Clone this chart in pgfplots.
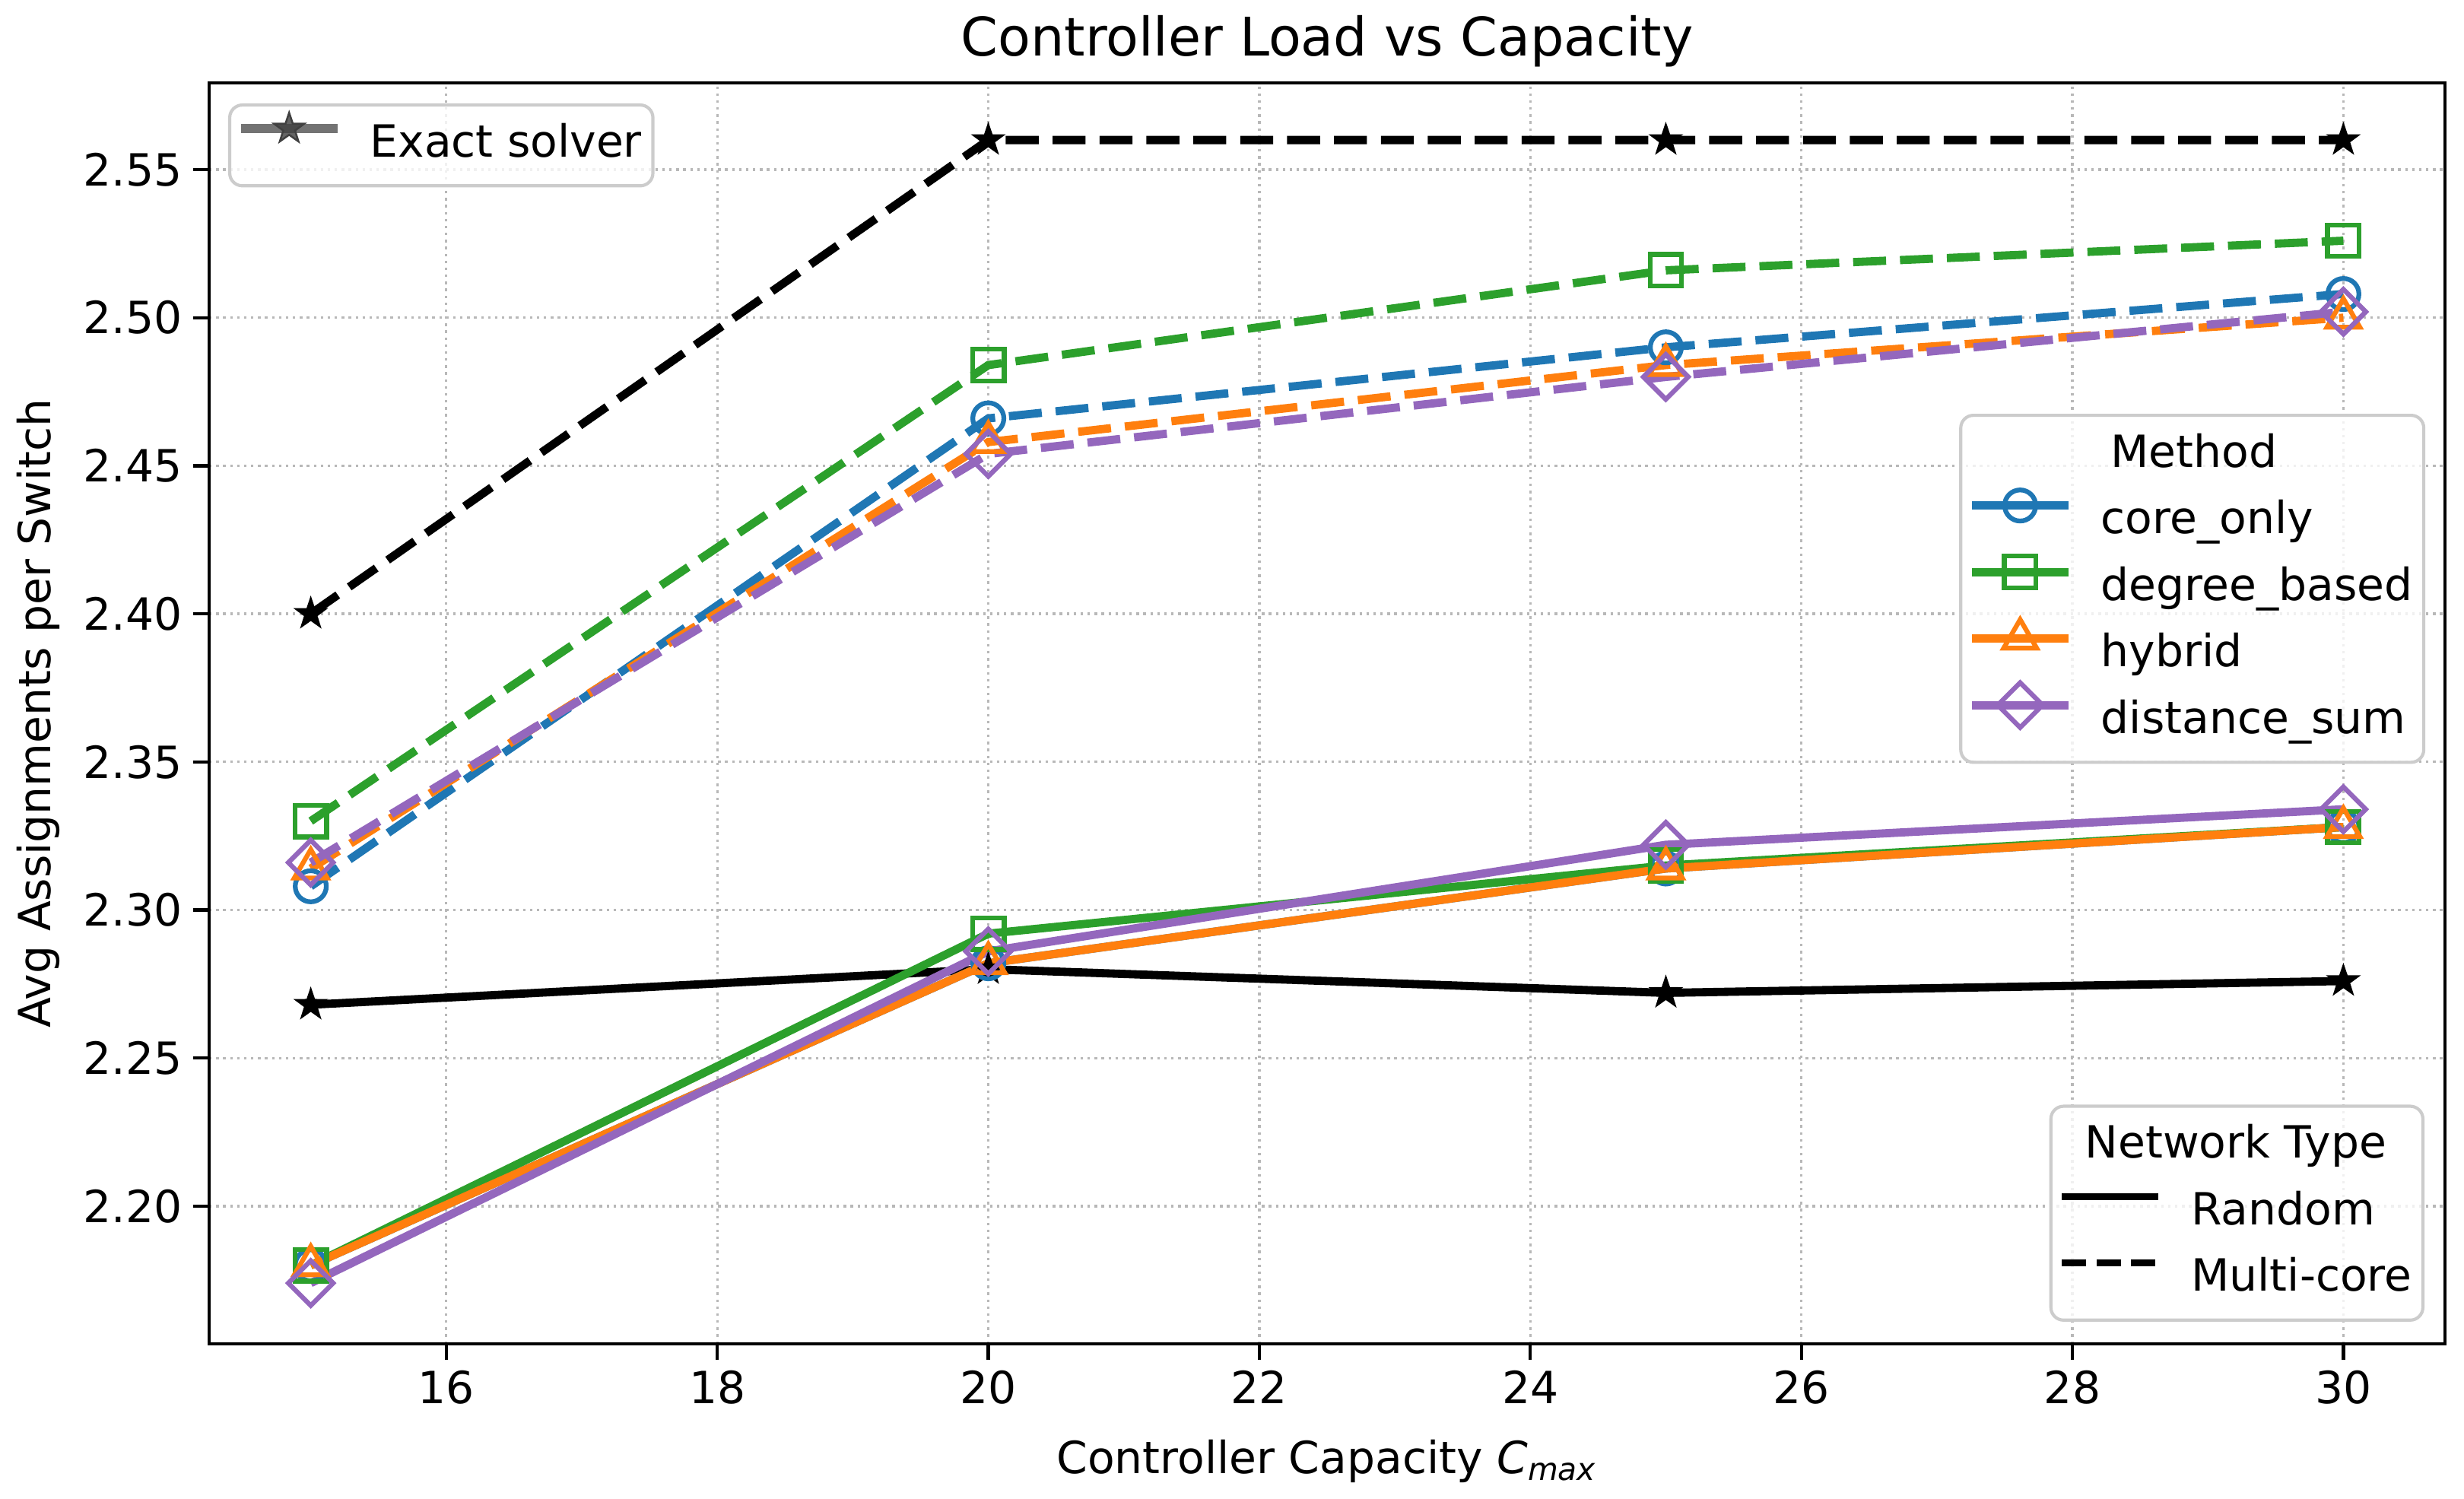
\documentclass[border=0pt]{standalone}
\usepackage{fontspec}
\setmainfont{DejaVu Sans}
\usepackage{pgfplots}
\usepackage{pgfplotstable}
\pgfplotsset{compat=1.18}
\pgfplotsset{/pgf/number format/assume math mode=true}

\definecolor{cblue}{HTML}{1F77B4}
\definecolor{cgreen}{HTML}{2CA02C}
\definecolor{corange}{HTML}{FF7F0E}
\definecolor{cpurple}{HTML}{9467BD}

% filled five-pointed star
\pgfdeclareplotmark{fstar}{%
  \pgfpathmoveto{\pgfpointpolar{90}{\pgfplotmarksize}}%
  \pgfpathlineto{\pgfpointpolar{126}{0.39\pgfplotmarksize}}%
  \pgfpathlineto{\pgfpointpolar{162}{\pgfplotmarksize}}%
  \pgfpathlineto{\pgfpointpolar{198}{0.39\pgfplotmarksize}}%
  \pgfpathlineto{\pgfpointpolar{234}{\pgfplotmarksize}}%
  \pgfpathlineto{\pgfpointpolar{270}{0.39\pgfplotmarksize}}%
  \pgfpathlineto{\pgfpointpolar{306}{\pgfplotmarksize}}%
  \pgfpathlineto{\pgfpointpolar{342}{0.39\pgfplotmarksize}}%
  \pgfpathlineto{\pgfpointpolar{18}{\pgfplotmarksize}}%
  \pgfpathlineto{\pgfpointpolar{54}{0.39\pgfplotmarksize}}%
  \pgfpathclose
  \pgfusepathqfillstroke
}

% legend text with a little room on the right
\newcommand\lt[1]{#1\hspace{2pt}}

% average assignments per switch; r = Random, m = Multi-core
\pgfplotstableread{
x   ex_r  ex_m  co_r  co_m  de_r  de_m  hy_r  hy_m  di_r  di_m
15  2.268 2.400 2.180 2.308 2.180 2.330 2.180 2.314 2.174 2.316
20  2.280 2.560 2.282 2.466 2.292 2.484 2.282 2.458 2.286 2.454
25  2.272 2.560 2.314 2.490 2.315 2.516 2.314 2.484 2.322 2.480
30  2.276 2.560 2.328 2.508 2.328 2.526 2.328 2.500 2.334 2.502
}\loaddata

\pgfplotsset{
  common/.style={
    scale only axis, width=705.6pt, height=397.9pt,
    xmin=14.25, xmax=30.75, ymin=2.1535, ymax=2.5793,
    at={(0pt,0pt)}, anchor=south west,
  },
  legbox/.style={
    legend cell align=left,
    % the sample is drawn as an overlay so that only the text sets the row height
    legend image code/.code={%
      \draw[overlay, sharp corners, mark repeat=2, mark phase=2, yshift=5.3pt, ##1]
        plot coordinates {(0pt,0pt) (15.25pt,0pt) (30.5pt,0pt)};
      \path[draw=none, fill=none] (0pt,0pt) -- (30.5pt,0pt);},
    legend style={
      draw=black!20, line width=1pt, rounded corners=4pt,
      fill=white, fill opacity=0.8, text opacity=1, draw opacity=1,
      font=\fontsize{14}{16.8}\selectfont,
      inner xsep=3.5pt, inner ysep=5.8pt,
      row sep=7.1pt, column sep=10.3pt,
      nodes={inner sep=0pt, text height=10.6pt, text depth=3.3pt},
    },
  },
  solidline/.style={solid, line width=2.6pt},
  dashline/.style={line width=2.6pt, dash pattern=on 10.4pt off 4.4pt},
  omark/.style={mark options={solid, fill=white, line width=1.5pt}},
  dmark/.style={mark options={solid, fill=white, line width=1.5pt, rotate=45}},
}

\begin{document}
\begin{tikzpicture}

% main axis with all series
\begin{axis}[common, legbox,
  axis line style={line width=1pt},
  tick style={line width=1pt, black},
  tick align=outside, major tick length=5pt, tick pos=left,
  xtick={16,18,20,22,24,26,28,30},
  ytick={2.20,2.25,2.30,2.35,2.40,2.45,2.50,2.55},
  yticklabel style={/pgf/number format/.cd, fixed, fixed zerofill, precision=2},
  ticklabel style={font=\fontsize{14}{16.8}\selectfont},
  grid=major,
  major grid style={line width=0.8pt, black!28, dash pattern=on 0.8pt off 1.4pt},
  title={Controller Load vs Capacity},
  title style={at={(axis description cs:0.5,1)}, anchor=base, yshift=2.4pt,
    inner sep=0pt, font=\fontsize{16.8}{20}\selectfont},
  xlabel={Controller Capacity \textit{C}\textsubscript{\textit{max}}},
  xlabel style={at={(axis description cs:0.5,0)}, anchor=base, yshift=-41pt,
    inner sep=0pt, font=\fontsize{14}{16.8}\selectfont},
  ylabel={Avg Assignments per Switch},
  ylabel style={at={(axis description cs:-0.0709,0.5)}, anchor=base,
    inner sep=0pt, font=\fontsize{14}{16.8}\selectfont},
  legend style={at={(axis description cs:0.0085,0.9837)}, anchor=north west},
]
% exact solver
\addplot[forget plot, black, solidline, mark=fstar, mark size=5pt,
  mark options={solid, fill=black, line width=0.5pt}] table[x=x, y=ex_r] {\loaddata};
\addplot[forget plot, black, dashline, mark=fstar, mark size=5pt,
  mark options={solid, fill=black, line width=0.5pt}] table[x=x, y=ex_m] {\loaddata};
% core_only
\addplot[forget plot, cblue, solidline, mark=o, mark size=4.9pt, omark] table[x=x, y=co_r] {\loaddata};
\addplot[forget plot, cblue, dashline, mark=o, mark size=4.9pt, omark] table[x=x, y=co_m] {\loaddata};
% degree_based
\addplot[forget plot, cgreen, solidline, mark=square, mark size=5pt, omark] table[x=x, y=de_r] {\loaddata};
\addplot[forget plot, cgreen, dashline, mark=square, mark size=5pt, omark] table[x=x, y=de_m] {\loaddata};
% hybrid
\addplot[forget plot, corange, solidline, mark=triangle, mark size=6pt, omark] table[x=x, y=hy_r] {\loaddata};
\addplot[forget plot, corange, dashline, mark=triangle, mark size=6pt, omark] table[x=x, y=hy_m] {\loaddata};
% distance_sum
\addplot[forget plot, cpurple, solidline, mark=square, mark size=5pt, dmark] table[x=x, y=di_r] {\loaddata};
\addplot[forget plot, cpurple, dashline, mark=square, mark size=5pt, dmark] table[x=x, y=di_m] {\loaddata};

\addlegendimage{black!55, line width=3pt, mark=fstar, mark size=5pt,
  mark options={fill=black!75, draw=black!75, line width=0.6pt}}
\addlegendentry{\lt{Exact solver}}
\end{axis}

% method legend
\begin{axis}[common, legbox, hide axis,
  legend style={at={(axis description cs:0.9912,0.7376)}, anchor=north east}]
\addlegendimage{empty legend}
\addlegendentry{\hspace{3pt}Method}
\addlegendimage{cblue, line width=2.6pt, mark=o, mark size=4.9pt, mark options={fill=white, line width=1.5pt}}
\addlegendentry{\lt{core\_only}}
\addlegendimage{cgreen, line width=2.6pt, mark=square, mark size=5pt, mark options={fill=white, line width=1.5pt}}
\addlegendentry{\lt{degree\_based}}
\addlegendimage{corange, line width=2.6pt, mark=triangle, mark size=6pt, mark options={fill=white, line width=1.5pt}}
\addlegendentry{\lt{hybrid}}
\addlegendimage{cpurple, line width=2.6pt, mark=square, mark size=5pt, mark options={fill=white, line width=1.5pt, rotate=45}}
\addlegendentry{\lt{distance\_sum}}
\end{axis}

% network type legend
\begin{axis}[common, legbox, hide axis,
  legend style={at={(axis description cs:0.9908,0.0175)}, anchor=south east}]
\addlegendimage{empty legend}
\addlegendentry{\hspace{-33.5pt}Network Type}
\addlegendimage{black, line width=2.2pt}
\addlegendentry{\lt{Random}}
\addlegendimage{black, line width=2.2pt, dash pattern=on 7.7pt off 3.2pt}
\addlegendentry{\lt{Multi-core}}
\end{axis}

\pgfresetboundingbox
\path[use as bounding box] (-66pt,-48.96pt) rectangle (711.6pt,424.06pt);
\end{tikzpicture}
\end{document}
